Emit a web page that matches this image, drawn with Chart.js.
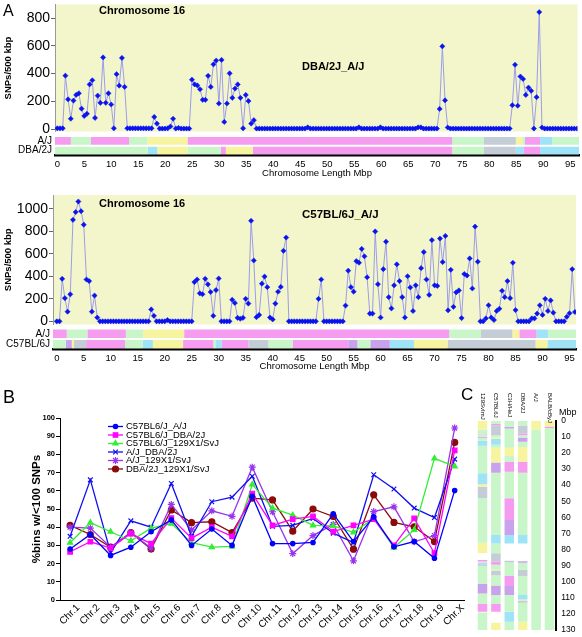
<!DOCTYPE html>
<html>
<head>
<meta charset="utf-8">
<script src="https://cdn.jsdelivr.net/npm/chart.js@4.4.1/dist/chart.umd.min.js"></script>
<style>
  body { margin: 0; background: #fff; font-family: 'Liberation Sans', Arial, sans-serif; }
  #wrap { position: relative; width: 582px; height: 637px; overflow: hidden; }
  canvas, .lbl { position: absolute; }
  .lbl { white-space: nowrap; line-height: 1; color: #000; }
  .b { font-weight: bold; }
</style>
</head>
<body>
<div id="wrap">
  <canvas id="a1" width="582" height="136" style="left:0;top:0"></canvas>
  <canvas id="a1band" width="582" height="44" style="left:0;top:135px"></canvas>
  <canvas id="a2" width="582" height="139" style="left:0;top:190px"></canvas>
  <canvas id="a2band" width="582" height="44" style="left:0;top:328px"></canvas>
  <canvas id="b" width="470" height="232" style="left:0;top:405px"></canvas>
  <canvas id="c" width="112" height="257" style="left:470px;top:380px"></canvas>

  <div class="lbl" style="left:3px;top:3px;font-size:16px">A</div>
  <div class="lbl b" style="left:99px;top:5px;font-size:11px">Chromosome 16</div>
  <div class="lbl b" style="left:302px;top:61px;font-size:11px">DBA/2J_A/J</div>
  <div class="lbl b" style="left:99px;top:197.5px;font-size:11px">Chromosome 16</div>
  <div class="lbl b" style="left:302px;top:208.5px;font-size:11.5px">C57BL/6J_A/J</div>
  <div class="lbl" style="left:3px;top:387.5px;font-size:18px">B</div>
  <div class="lbl" style="left:461px;top:386px;font-size:17px">C</div>
  <div class="lbl" style="left:559px;top:408px;font-size:9px">Mbp</div>
</div>
<script>
Chart.defaults.animation = false;
Chart.defaults.font.family = "'Liberation Sans', Arial, sans-serif";
Chart.defaults.color = '#000';
Chart.defaults.plugins.legend.display = false;
Chart.defaults.plugins.tooltip.enabled = false;

// ---- panel A: SNPs per 500 kbp bin, chromosome 16 ----
const binSize = 0.5;   // Mbp per bin
const snpTicksA1 = [0, 200, 400, 600, 800];
const snpTicksA2 = [0, 200, 400, 600, 800, 1000];
const mbpTicks = [0, 5, 10, 15, 20, 25, 30, 35, 40, 45, 50, 55, 60, 65, 70, 75, 80, 85, 90, 95];

// DBA/2J vs A/J, bins from 0 Mbp
const snpDbaAj = [
  5, 5, 5, 385, 214, 74, 205, 246, 258, 147,
  94, 110, 322, 352, 80, 241, 189, 517, 189, 258,
  177, 5, 396, 313, 513, 304, 5, 5, 5, 5,
  5, 5, 5, 5, 5, 5, 87, 39, 3, 3,
  3, 5, 18, 74, 3, 8, 3, 3, 3, 3,
  356, 322, 315, 287, 211, 211, 384, 304, 467, 494,
  184, 499, 51, 184, 402, 225, 292, 322, 225, 5,
  246, 202, 39, 64, 3, 3, 3, 3, 3, 3,
  3, 3, 3, 3, 3, 3, 3, 3, 3, 3,
  3, 3, 3, 12, 3, 3, 3, 3, 3, 3,
  3, 3, 3, 3, 3, 3, 3, 3, 3, 3,
  3, 3, 12, 3, 3, 3, 3, 3, 3, 3,
  12, 3, 3, 3, 3, 3, 3, 3, 3, 3,
  3, 3, 3, 3, 12, 12, 3, 3, 3, 3,
  3, 3, 145, 597, 207, 11, 3, 3, 3, 3,
  3, 3, 3, 3, 3, 3, 3, 3, 3, 3,
  3, 3, 3, 3, 3, 3, 3, 3, 3, 172,
  464, 168, 379, 361, 246, 299, 276, 3, 230, 844,
  11, 3, 3, 3, 3, 3, 3, 3, 3, 3,
  3, 3, 3, 3
];

// C57BL/6J vs A/J, bins from 0 Mbp
const snpB6Aj = [
  0, 0, 378, 206, 86, 240, 902, 971, 1065, 979,
  859, 372, 358, 86, 229, 34, 0, 0, 0, 0,
  0, 0, 0, 0, 0, 0, 0, 0, 0, 0,
  0, 0, 0, 0, 0, 106, 49, 0, 0, 0,
  0, 11, 0, 0, 0, 0, 0, 0, 0, 0,
  0, 349, 372, 249, 241, 378, 329, 261, 49, 278,
  381, 0, 0, 0, 0, 192, 163, 31, 23, 31,
  200, 158, 894, 541, 37, 57, 335, 398, 304, 34,
  17, 158, 263, 306, 627, 745, 0, 0, 0, 0,
  0, 0, 0, 0, 0, 0, 0, 200, 372, 0,
  0, 0, 0, 0, 0, 0, 0, 140, 450, 304,
  264, 536, 521, 644, 578, 392, 69, 69, 799, 330,
  34, 464, 708, 215, 115, 320, 507, 358, 215, 34,
  401, 301, 92, 320, 215, 473, 616, 372, 235, 722,
  320, 315, 736, 527, 759, 98, 458, 129, 258, 275,
  29, 421, 407, 559, 292, 842, 530, 0, 0, 26,
  143, 34, 12, 92, 112, 272, 215, 358, 206, 521,
  100, 0, 0, 0, 0, 0, 26, 26, 69, 143,
  57, 200, 92, 186, 77, 0, 0, 0, 0, 40,
  72, 464, 83
];

// haplotype blocks [start Mbp, end Mbp, haplotype]
const hapAjA1 = [[-0.5,2.5,'pnk'],[2.5,6.2,'grn'],[6.2,13.3,'pnk'],[13.3,16.7,'grn'],[16.7,24.1,'yel'],
  [24.1,73.1,'pnk'],[73.1,79,'grn'],[79,84.9,'gry'],[84.9,86.1,'yel'],[86.1,86.6,'grn'],[86.6,89.4,'pnk'],
  [89.4,91.6,'blu'],[91.6,97,'grn']];
const hapDba = [[-0.5,16.75,'grn'],[16.75,18.5,'blu'],[18.5,24.1,'yel'],[24.1,30.3,'grn'],[30.3,31.2,'pnk'],
  [31.2,36.2,'yel'],[36.2,73.1,'pnk'],[73.1,79,'grn'],[79,84.9,'gry'],[84.9,86.3,'blu'],[86.3,89.4,'pnk'],
  [89.4,97,'blu']];
const hapAjA2 = [[-1,1.85,'pnk'],[1.85,5.67,'grn'],[5.67,12.8,'pnk'],[12.8,16,'grn'],[16,23.6,'yel'],
  [23.6,72.7,'pnk'],[72.7,78.6,'grn'],[78.6,84.4,'gry'],[84.4,85.7,'yel'],[85.7,88.9,'pnk'],
  [88.9,91,'blu'],[91,97,'grn']];
const hapB6 = [[-1,1.67,'grn'],[1.67,2.78,'pur'],[2.78,3.2,'yel'],[3.2,5.43,'gry'],[5.43,12.65,'pnk'],
  [12.65,15.9,'grn'],[15.9,17.8,'blu'],[17.8,23.4,'yel'],[23.4,29,'pnk'],[29,29.5,'grn'],[29.5,30.55,'blu'],
  [30.55,35.5,'pnk'],[35.5,39.2,'gry'],[39.2,43.7,'grn'],[43.7,54,'pnk'],[54,55.7,'pur'],[55.7,58.1,'grn'],
  [58.1,61.7,'pur'],[61.7,66.2,'blu'],[66.2,72.4,'yel'],[72.4,88.7,'gry'],[88.7,90.9,'yel'],[90.9,97,'blu']];

// ---- panel B ----
const chrLabels = ['Chr.1','Chr.2','Chr.3','Chr.4','Chr.5','Chr.6','Chr.7','Chr.8','Chr.9','Chr.10',
  'Chr.11','Chr.12','Chr.13','Chr.14','Chr.15','Chr.16','Chr.17','Chr.18','Chr.19','Chr.X'];
const pairNames = ['C57BL6/J_A/J','C57BL6/J_DBA/2J','C57BL6/J_129X1/SvJ','A/J_DBA/2J','A/J_129X1/SvJ','DBA/2J_129X1/SvJ'];
const pctB6Aj    = [28, 36, 24.5, 29, 37.5, 44, 30, 39, 30, 57, 31, 31, 31.6, 47.3, 32.1, 45.7, 29.2, 32.1, 22.9, 60.2];
const pctB6Dba   = [26.5, 32, 28.5, 36.5, 31, 45, 34, 40, 35, 58.5, 41, 44.4, 45.9, 37.6, 41, 44.4, 30, 44.8, 25.7, 82.2];
const pctB6129   = [31.5, 42.5, 37.5, 32.5, 39.5, 42, 31.5, 29, 29.5, 63.5, 50.5, 46.6, 41, 40.7, 37.2, 44.8, 28.8, 38.5, 77.8, 73.4];
const pctAjDba   = [35, 66, 26, 43.5, 40, 64, 35, 54, 56.5, 68, 40.5, 41, 44.8, 36.7, 31.6, 68.8, 61, 50.5, 45.3, 77.4];
const pctAj129   = [40, 39.5, 29, 37, 28.5, 52.5, 38.5, 49, 46, 73, 48.5, 25.5, 35.4, 41.5, 21.5, 48.6, 51.2, 32, 35.4, 94.5];
const pctDba129  = [41, 36, 29, 37, 28, 49.5, 42.5, 43, 37, 56, 55, 37.8, 50, 45.9, 27.9, 57.8, 42.6, 40.2, 32.1, 86.6];
const pctTicks = [0, 10, 20, 30, 40, 50, 60, 70, 80, 90, 100];

// ---- panel C ----
const strains = ['129SvImJ','C57BL6J','C3H/HeJ','DBA/2J','A/J','BALB/cByJ'];
const hapC129 = [[0,5.4,'yel'],[5.4,8.5,'grn'],[8.5,9,'pnk'],[9,10,'grn'],[10,10.6,'pur'],[10.6,12.5,'grn'],
  [12.5,15.5,'blu'],[15.5,32.7,'grn'],[32.7,39.5,'blu'],[39.5,41,'yel'],[41,48,'gry'],[48,75.8,'grn'],
  [75.8,82.2,'yel'],[86.5,87.5,'pnk'],[87.5,88.5,'grn'],[88.5,89.2,'pnk'],[89.2,90.3,'blu'],[90.3,101.5,'grn'],
  [101.5,107.3,'pur'],[107.3,113.7,'grn'],[113.7,118.6,'pnk'],[119.2,130,'grn']];
const hapCB6 = [[0,2,'grn'],[2,2.8,'pnk'],[2.8,9,'gry'],[9,10.5,'grn'],[10.5,11.2,'yel'],[11.2,15,'blu'],
  [15,16.8,'grn'],[16.8,26,'yel'],[26,32.4,'pur'],[32.4,71,'grn'],[71,76.2,'blu'],[76.2,82.4,'grn'],
  [82.4,87.5,'gry'],[87.5,89.5,'pnk'],[89.5,92.5,'grn'],[92.5,93,'yel'],[93,96,'gry'],[96,102.4,'grn'],
  [102.4,108.2,'pur'],[108.2,113.9,'grn'],[113.9,118.6,'pnk'],[125.5,130,'yel']];
const hapCC3H = [[0,3.8,'grn'],[3.8,4.8,'pur'],[4.8,16.8,'grn'],[16.8,22,'yel'],[22,25.5,'grn'],
  [25.5,31.7,'pnk'],[31.7,48.2,'grn'],[48.2,61.7,'pnk'],[61.7,71,'pur'],[71,76.2,'blu'],[87,88,'gry'],
  [88,96.5,'grn'],[96.5,102.7,'pnk'],[102.7,108.2,'pur'],[108.2,118.6,'grn'],[118.6,124.8,'blu'],[124.8,130,'grn']];
const hapCDba = [[0,3,'grn'],[3,8,'gry'],[8,9,'pnk'],[9,10.5,'grn'],[10.5,13,'pur'],[13,16.3,'grn'],
  [16.3,25.5,'yel'],[25.5,32.3,'pnk'],[32.3,71,'grn'],[71,76.2,'blu'],[87.3,88.3,'pur'],[88.3,92.5,'grn'],
  [92.5,96.4,'gry'],[96.4,108.2,'grn'],[108.2,111,'blu'],[111,111.6,'yel'],[111.6,113,'gry'],
  [113,124.8,'grn'],[124.8,130,'yel']];
const hapCAj = [[0,5.4,'yel'],[5.4,130,'grn']];
const hapCBalb = [[0,3.6,'yel'],[3.6,4.6,'pnk'],[4.6,130,'grn']];
const mbpTicksC = [0, 10, 20, 30, 40, 50, 60, 70, 80, 90, 100, 110, 120, 130];

const hapColor = { grn: '#c8f6c8', yel: '#f6f49e', pnk: '#f59cf0', pur: '#c9a2ee', blu: '#9fe3f7', gry: '#c4ccd6' };

// the label overhang padding is not wanted: chart areas are placed by hand
function noOverhang(s) {
  s.paddingTop = 0; s.paddingBottom = 0; s.paddingLeft = 0; s.paddingRight = 0;
}

// ---- plugins ----
const plotBg = {
  id: 'plotBg',
  beforeDraw(chart, args, opts) {
    const { ctx, chartArea: a } = chart;
    ctx.save();
    ctx.fillStyle = opts.color;
    ctx.fillRect(a.left, a.top, a.right - a.left, a.bottom - a.top);
    ctx.restore();
  }
};

function segmentSets(rows, barPct) {
  const n = Math.max(...rows.map(r => r.length));
  const sets = [];
  for (let k = 0; k < n; k++) {
    sets.push({
      data: rows.map(r => r[k] ? [r[k][0], r[k][1]] : null),
      backgroundColor: rows.map(r => r[k] ? hapColor[r[k][2]] : 'rgba(0,0,0,0)'),
      borderWidth: 0,
      grouped: false,
      barPercentage: barPct,
      categoryPercentage: 1,
      clip: 0
    });
  }
  return sets;
}

function snpChart(id, values, o) {
  return new Chart(document.getElementById(id), {
    type: 'line',
    data: {
      datasets: [{
        data: values.map((v, i) => ({ x: i * binSize, y: v })),
        borderColor: '#9c9cec',
        borderWidth: 1,
        pointStyle: 'rectRot',
        pointRadius: 2.6,
        pointBackgroundColor: '#0a14f0',
        pointBorderColor: '#0a14f0',
        pointBorderWidth: 0.5
      }]
    },
    options: {
      responsive: false,
      layout: { padding: { top: o.top, right: o.right, left: 0, bottom: 0 } },
      plugins: { plotBg: { color: '#f3f6ca' } },
      scales: {
        x: { type: 'linear', min: o.xMin, max: o.xMax, display: false },
        y: {
          min: o.yMin, max: o.yMax,
          afterBuildTicks: s => { s.ticks = o.ticks.map(v => ({ value: v })); },
          afterFit: s => { s.width = o.axisW; noOverhang(s); },
          grid: { drawOnChartArea: false, tickLength: 4, color: '#666' },
          border: { color: '#999' },
          ticks: { font: { size: 14 }, padding: 1, callback: v => String(v) },
          title: { display: true, text: 'SNPs/500 kbp', font: { size: 9.5, weight: 'bold' }, padding: { top: 2.6 } }
        }
      }
    },
    plugins: [plotBg]
  });
}

function bandChart(id, names, rows, o) {
  return new Chart(document.getElementById(id), {
    type: 'bar',
    data: { labels: names, datasets: segmentSets(rows, o.barPct) },
    options: {
      responsive: false,
      indexAxis: 'y',
      layout: { padding: { top: o.top, right: o.right, left: 0, bottom: 0 } },
      scales: {
        x: {
          type: 'linear', min: o.xMin, max: o.xMax,
          afterBuildTicks: s => { s.ticks = mbpTicks.map(v => ({ value: v })); },
          afterFit: s => { s.height = o.axisH; noOverhang(s); },
          grid: { display: false, drawTicks: false },
          border: { display: true, color: '#000', width: 2.5 },
          ticks: { font: { size: 9.5 }, padding: 3 },
          title: { display: true, text: 'Chromosome Length Mbp', font: { size: 9.5 }, padding: { top: 0, bottom: 0 } }
        },
        y: {
          afterFit: s => { s.width = o.axisW; noOverhang(s); },
          grid: { display: false, drawTicks: false },
          border: { display: false },
          ticks: { font: { size: 10 }, padding: 3, autoSkip: false }
        }
      }
    }
  });
}

snpChart('a1', snpDbaAj, { top: 3, right: 3, xMin: -0.43, xMax: 96.6, yMin: -18, yMax: 899, ticks: snpTicksA1, axisW: 55 });
bandChart('a1band', ['A/J', 'DBA/2J'], [hapAjA1, hapDba], { top: 1, right: 3, xMin: -0.43, xMax: 96.6, axisH: 23.5, axisW: 55, barPct: 0.77 });
snpChart('a2', snpB6Aj, { top: 5, right: 6, xMin: -0.7, xMax: 96.2, yMin: -28, yMax: 1123, ticks: snpTicksA2, axisW: 53 });
bandChart('a2band', ['A/J', 'C57BL/6J'], [hapAjA2, hapB6], { top: 0.5, right: 6, xMin: -0.7, xMax: 96.2, axisH: 22.5, axisW: 53, barPct: 0.81 });

// ---- panel B chart ----
const lineLegend = {
  id: 'lineLegend',
  afterDraw(chart, args, o) {
    const ctx = chart.ctx;
    chart.data.datasets.forEach((ds, i) => {
      const y = o.y + i * o.gap;
      ctx.save();
      ctx.strokeStyle = ds.borderColor;
      ctx.lineWidth = ds.borderWidth;
      ctx.beginPath();
      ctx.moveTo(o.x, y);
      ctx.lineTo(o.x + o.len, y);
      ctx.stroke();
      ctx.fillStyle = ds.pointBackgroundColor;
      ctx.strokeStyle = ds.pointBorderColor;
      ctx.lineWidth = ds.pointBorderWidth;
      Chart.helpers.drawPoint(ctx, { pointStyle: ds.pointStyle, radius: ds.pointRadius, rotation: 0, borderWidth: ds.pointBorderWidth }, o.x + o.len / 2, y);
      ctx.fillStyle = '#000';
      ctx.font = o.font;
      ctx.textBaseline = 'middle';
      ctx.fillText(ds.label, o.x + o.len + 3, y);
      ctx.restore();
    });
  }
};

function pairSet(label, data, color, style, radius) {
  return {
    label, data,
    borderColor: color, borderWidth: 1.3,
    pointStyle: style, pointRadius: radius,
    pointBackgroundColor: color, pointBorderColor: color, pointBorderWidth: 1.2
  };
}

new Chart(document.getElementById('b'), {
  type: 'line',
  data: {
    labels: chrLabels,
    datasets: [
      pairSet(pairNames[0], pctB6Aj, '#0000ff', 'circle', 2.2),
      pairSet(pairNames[1], pctB6Dba, '#ff00ff', 'rect', 3.2),
      pairSet(pairNames[2], pctB6129, '#33ee33', 'triangle', 3),
      pairSet(pairNames[3], pctAjDba, '#1010f0', 'crossRot', 3.3),
      pairSet(pairNames[4], pctAj129, '#9933ee', 'star', 3.5),
      pairSet(pairNames[5], pctDba129, '#8b0a0a', 'circle', 3)
    ]
  },
  options: {
    responsive: false,
    layout: { padding: { left: 26, top: 13, right: 5, bottom: 0 } },
    plugins: { lineLegend: { x: 108, y: 21.5, gap: 8.5, len: 15, font: "9.5px 'Liberation Sans', Arial, sans-serif" } },
    scales: {
      x: {
        offset: true,
        afterFit: s => { s.height = 37; noOverhang(s); },
        grid: { display: false, drawTicks: false },
        border: { color: '#000' },
        ticks: { minRotation: 45, maxRotation: 45, autoSkip: false, font: { size: 10 }, padding: 2, labelOffset: 8 }
      },
      y: {
        min: 0, max: 100,
        afterBuildTicks: s => { s.ticks = pctTicks.map(v => ({ value: v })); },
        afterFit: s => { s.width = 34; noOverhang(s); },
        grid: { drawOnChartArea: false, tickLength: 4, color: '#000' },
        border: { color: '#000' },
        ticks: { font: { size: 7.5, weight: 'bold' }, padding: 1 },
        title: { display: true, text: '%bins w/<100 SNPs', font: { size: 11.5, weight: 'bold' }, padding: { top: 4 } }
      }
    }
  },
  plugins: [lineLegend]
});

// ---- panel C chart ----
const colHeads = {
  id: 'colHeads',
  afterDraw(chart, args, o) {
    const ctx = chart.ctx, xs = chart.scales.x;
    ctx.save();
    ctx.font = o.font;
    ctx.fillStyle = '#000';
    ctx.textBaseline = 'middle';
    chart.data.labels.forEach((lab, i) => {
      ctx.save();
      ctx.translate(xs.getPixelForValue(i), o.y);
      ctx.rotate(Math.PI / 2);
      ctx.fillText(lab, 0, 0);
      ctx.restore();
    });
    ctx.restore();
  }
};

new Chart(document.getElementById('c'), {
  type: 'bar',
  data: { labels: strains, datasets: segmentSets([hapC129, hapCB6, hapCC3H, hapCDba, hapCAj, hapCBalb], 0.71) },
  options: {
    responsive: false,
    layout: { padding: { left: 5.8, top: 40.7, right: 0, bottom: 7 } },
    plugins: { colHeads: { y: 13, font: "6px 'Liberation Sans', Arial, sans-serif" } },
    scales: {
      x: { display: false },
      y: {
        position: 'right', reverse: true, min: 0, max: 130,
        afterBuildTicks: s => { s.ticks = mbpTicksC.map(v => ({ value: v })); },
        afterFit: s => { s.width = 25.8; noOverhang(s); },
        grid: { display: false, drawTicks: false },
        border: { color: '#000', width: 2 },
        ticks: { font: { size: 8.5 }, padding: 5 }
      }
    }
  },
  plugins: [colHeads]
});
</script>
</body>
</html>
